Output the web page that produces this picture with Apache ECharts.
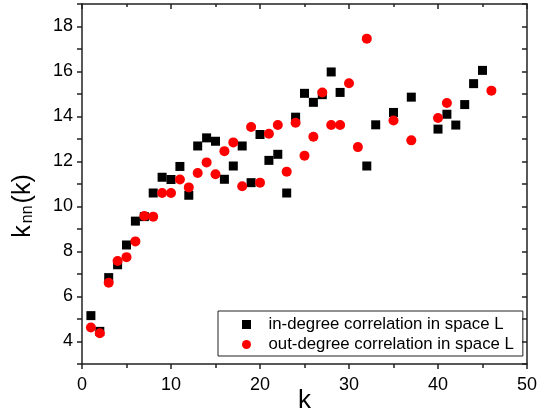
<!DOCTYPE html>
<html>
<head>
<meta charset="utf-8">
<script src="https://cdn.jsdelivr.net/npm/echarts@6/dist/echarts.min.js"></script>
<style>html,body{margin:0;padding:0;background:#fff}#c{width:537px;height:416px}</style>
</head>
<body>
<div id="c"></div>
<script>
const inK = [1,2,3,4,5,6,7,8,9,10,11,12,13,14,15,16,17,18,19,20,21,22,23,24,25,26,27,28,29,32,33,35,37,40,41,42,43,44,45];
const inV = [5.15,4.45,6.84,7.41,8.29,9.35,9.55,10.6,11.3,11.2,11.78,10.5,12.69,13.05,12.9,11.21,11.8,12.69,11.06,13.2,12.05,12.32,10.6,13.97,15.03,14.63,14.97,15.98,15.07,11.8,13.63,14.18,14.86,13.44,14.1,13.62,14.53,15.46,16.05];
const outK = [1,2,3,4,5,6,7,8,9,10,11,12,13,14,15,16,17,18,19,20,21,22,23,24,25,26,27,28,29,30,31,32,35,37,40,41,46];
const outV = [4.62,4.37,6.61,7.58,7.75,8.45,9.58,9.55,10.6,10.6,11.2,10.85,11.49,11.96,11.43,12.46,12.85,10.9,13.53,11.06,13.23,13.62,11.55,13.72,12.26,13.1,15.07,13.62,13.62,15.48,12.64,17.46,13.82,12.94,13.93,14.6,15.15];
const seriesNames = ['in-degree correlation in space L','out-degree correlation in space L'];

const chart = echarts.init(document.getElementById('c'), null, {renderer:'canvas'});
const font = 'Liberation Sans, Arial, sans-serif';
const lineStyle = {color:'#222', width:1.5};
chart.setOption({
  animation:false,
  grid:{left:82, right:10, top:4, bottom:52, outerBoundsMode:'none', containLabel:false},
  legend:{
    orient:'vertical', left:218, top:311,
    borderColor:'#222', borderWidth:1, padding:[5,9,3,24], itemGap:3,
    itemWidth:34, itemHeight:9, symbolKeepAspect:true,
    textStyle:{fontFamily:font, fontSize:16.8, color:'#000', lineHeight:16},
    data:[{name:seriesNames[0], icon:'path://M0,0h10v10h-10z'},{name:seriesNames[1], icon:'circle'}]
  },
  xAxis:[{
    type:'value', min:0, max:50, interval:10,
    name:'k', nameLocation:'middle', nameGap:24, nameMoveOverlap:false,
    nameTextStyle:{fontFamily:font, fontSize:26, color:'#000'},
    axisLine:{onZero:false, lineStyle},
    axisTick:{show:true, inside:false, length:5, lineStyle},
    minorTick:{show:true, splitNumber:2, length:4, lineStyle},
    axisLabel:{fontFamily:font, fontSize:18, color:'#000', margin:12},
    splitLine:{show:false}
  },{
    type:'value', min:0, max:50, interval:10, position:'top',
    axisLine:{onZero:false, lineStyle},
    axisTick:{show:true, inside:true, length:5, lineStyle},
    minorTick:{show:true, splitNumber:2, length:3, lineStyle},
    axisLabel:{show:false}, splitLine:{show:false}
  }],
  yAxis:[{
    type:'value', min:3, max:19, interval:1,
    axisLabel:{fontFamily:font, fontSize:18, color:'#000', margin:9,
      formatter:v => (v % 2 === 0 ? String(v) : '')},
    name:'{a|k}{b|nn}{a|(k)}', nameLocation:'middle', nameGap:46, nameRotate:90, nameMoveOverlap:false,
    nameTextStyle:{padding:[0,44,0,0], rich:{a:{fontFamily:font, fontSize:25, color:'#000', padding:[0,1,0,1]}, b:{fontFamily:font, fontSize:16, color:'#000', padding:[10,1,0,1]}}},
    axisLine:{onZero:false, lineStyle},
    axisTick:{show:true, inside:false, length:5, lineStyle},
    splitLine:{show:false}
  },{
    type:'value', min:3, max:19, interval:1, position:'right',
    axisLine:{onZero:false, lineStyle},
    axisTick:{show:true, inside:true, length:5, lineStyle},
    axisLabel:{show:false}, splitLine:{show:false}
  }],
  series:[{
    name:seriesNames[0], type:'scatter', symbol:'rect', symbolSize:9,
    itemStyle:{color:'#000', opacity:1},
    data:inK.map((k,i)=>[k,inV[i]])
  },{
    name:seriesNames[1], type:'scatter', symbol:'circle', symbolSize:10,
    itemStyle:{color:'#ff0000', opacity:1},
    data:outK.map((k,i)=>[k,outV[i]])
  }]
});
</script>
</body>
</html>
